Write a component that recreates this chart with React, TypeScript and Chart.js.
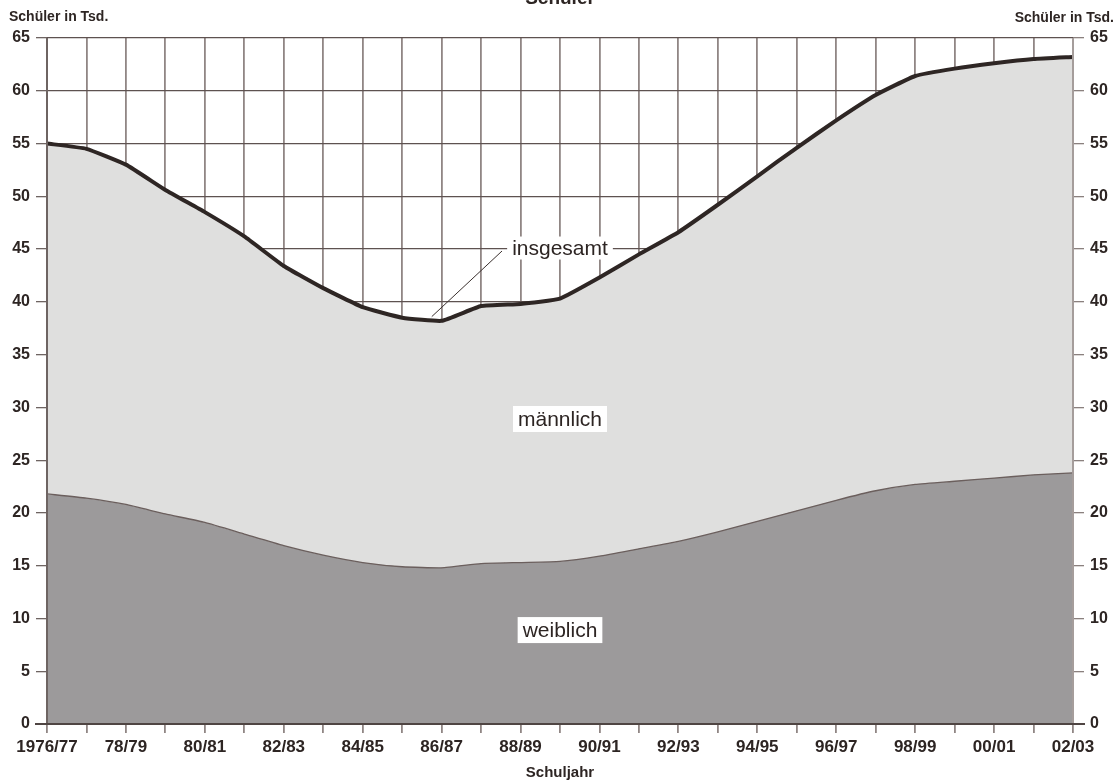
import React, { useEffect, useRef } from "react";
import { Chart, registerables } from "chart.js";

Chart.register(...registerables);

const years: string[] = [
  "1976/77", "77/78", "78/79", "79/80", "80/81", "81/82", "82/83", "83/84", "84/85",
  "85/86", "86/87", "87/88", "88/89", "89/90", "90/91", "91/92", "92/93", "93/94",
  "94/95", "95/96", "96/97", "97/98", "98/99", "99/00", "00/01", "01/02", "02/03",
];

const totalValues: number[] = [
  55.0, 54.5, 53.0, 50.6, 48.5, 46.2, 43.4, 41.3, 39.5, 38.5, 38.2, 39.6, 39.8, 40.3,
  42.3, 44.5, 46.6, 49.2, 51.9, 54.6, 57.2, 59.6, 61.4, 62.1, 62.6, 63.0, 63.2,
];

const femaleValues: number[] = [
  21.8, 21.4, 20.8, 19.9, 19.1, 18.0, 16.9, 16.0, 15.3, 14.9, 14.8, 15.2, 15.3, 15.4,
  15.9, 16.6, 17.3, 18.2, 19.2, 20.2, 21.2, 22.1, 22.7, 23.0, 23.3, 23.6, 23.8,
];

const yMin = 0;
const yMax = 65;
const yStep = 5;

const title = "Schüler";
const yAxisTitle = "Schüler in Tsd.";
const xAxisTitle = "Schuljahr";
const labelTotal = "insgesamt";
const labelMale = "männlich";
const labelFemale = "weiblich";

const FONT = "Arial, 'Liberation Sans', Helvetica, sans-serif";
const NARROW = "'Liberation Sans Narrow', 'Arial Narrow', Arial, sans-serif";
const TEXT = "#2d2523";

function boxLabel(ctx: CanvasRenderingContext2D, text: string, cx: number, cy: number, padX: number, h: number) {
  ctx.font = `21px ${FONT}`;
  const w = ctx.measureText(text).width;
  ctx.fillStyle = "#ffffff";
  ctx.fillRect(cx - w / 2 - padX, cy - h / 2, w + padX * 2, h);
  ctx.fillStyle = TEXT;
  ctx.textAlign = "center";
  ctx.textBaseline = "middle";
  ctx.fillText(text, cx, cy + 1);
}

const decorPlugin = {
  id: "decor",
  afterDatasetsDraw(chart: any) {
    const ctx: CanvasRenderingContext2D = chart.ctx;
    const { left, right, top, bottom } = chart.chartArea;
    const xs = chart.scales.x;
    const ys = chart.scales.y;
    ctx.save();
    // borders
    ctx.lineWidth = 2;
    ctx.strokeStyle = "#6e6462";
    ctx.beginPath();
    ctx.moveTo(left, top);
    ctx.lineTo(left, bottom);
    ctx.stroke();
    ctx.strokeStyle = "#a59d9b";
    ctx.beginPath();
    ctx.moveTo(right, top);
    ctx.lineTo(right, bottom);
    ctx.stroke();
    ctx.strokeStyle = "#4f4543";
    ctx.beginPath();
    ctx.moveTo(left - 12, bottom);
    ctx.lineTo(right + 12, bottom);
    ctx.stroke();

    const cx = (left + right) / 2;

    // leader line for insgesamt
    const lx = xs.getPixelForValue(9.75);
    const ly = ys.getPixelForValue(38.6);
    const ty = ys.getPixelForValue(45.1);
    ctx.strokeStyle = "#3a302e";
    ctx.lineWidth = 1;
    ctx.beginPath();
    ctx.moveTo(cx - 58, ty + 3);
    ctx.lineTo(lx, ly);
    ctx.stroke();

    boxLabel(ctx, labelTotal, cx, ty, 5, 23);
    boxLabel(ctx, labelMale, cx, ys.getPixelForValue(28.9), 5, 26);
    boxLabel(ctx, labelFemale, cx, ys.getPixelForValue(8.9), 5, 26);

    // title (cut off at top)
    ctx.fillStyle = TEXT;
    ctx.font = `bold 19px ${FONT}`;
    ctx.textAlign = "center";
    ctx.textBaseline = "alphabetic";
    ctx.fillText(title, cx, 4);

    // axis titles
    ctx.font = `bold 14px ${FONT}`;
    ctx.textAlign = "left";
    ctx.fillText(yAxisTitle, 9, 21);
    ctx.textAlign = "right";
    ctx.fillText(yAxisTitle, 1114, 22);

    // x axis title
    ctx.font = `bold 15px ${FONT}`;
    ctx.textAlign = "center";
    ctx.fillText(xAxisTitle, cx, 777);
    ctx.restore();
  },
};

export default function App() {
  const ref = useRef<HTMLCanvasElement | null>(null);

  useEffect(() => {
    if (!ref.current) return;
    const chart = new Chart(ref.current, {
      type: "line",
      data: {
        labels: years,
        datasets: [
          {
            label: labelFemale,
            data: femaleValues,
            borderColor: "#6b5f5d",
            borderWidth: 1.3,
            backgroundColor: "#9c9a9b",
            fill: "origin",
            pointRadius: 0,
            tension: 0.15,
          },
          {
            label: labelTotal,
            data: totalValues,
            borderColor: "#2e2624",
            borderWidth: 4,
            backgroundColor: "#dfdfde",
            fill: "-1",
            pointRadius: 0,
            tension: 0.12,
          },
        ],
      },
      options: {
        responsive: false,
        animation: false,
        layout: { padding: { top: 38, left: 0, right: 0, bottom: 0 } },
        plugins: {
          legend: { display: false },
          tooltip: { enabled: false },
          title: { display: false },
        },
        scales: {
          x: {
            type: "category",
            offset: false,
            afterFit: (s: any) => {
              s.height = 59;
            },
            border: { display: false },
            grid: {
              color: "#908684",
              lineWidth: 1.8,
              tickLength: 9,
              tickColor: "#908684",
            },
            ticks: {
              autoSkip: false,
              maxRotation: 0,
              minRotation: 0,
              padding: 4,
              color: TEXT,
              font: { family: FONT, size: 17, weight: "bold" },
              callback: (_v: any, i: number) => (i % 2 === 0 ? years[i] : ""),
            },
          },
          y: {
            position: "left",
            min: yMin,
            max: yMax,
            afterFit: (s: any) => {
              s.width = 47;
            },
            border: { display: false },
            grid: {
              color: "#5e5250",
              lineWidth: 1.3,
              tickLength: 11,
              tickColor: "#6e6462",
            },
            ticks: {
              stepSize: yStep,
              padding: 6,
              color: TEXT,
              font: { family: NARROW, size: 16, weight: "bold" },
            },
          },
          y2: {
            position: "right",
            min: yMin,
            max: yMax,
            afterFit: (s: any) => {
              s.width = 45;
            },
            border: { display: false },
            grid: {
              drawOnChartArea: false,
              tickLength: 11,
              tickColor: "#8a807e",
              lineWidth: 1.3,
            },
            ticks: {
              stepSize: yStep,
              padding: 6,
              color: TEXT,
              font: { family: NARROW, size: 16, weight: "bold" },
            },
          },
        },
      },
      plugins: [decorPlugin],
    } as any);
    return () => chart.destroy();
  }, []);

  return (
    <div style={{ position: "fixed", top: 0, left: 0, width: 1118, height: 783, background: "#ffffff", overflow: "hidden" }}>
      <canvas ref={ref} width={1118} height={783} style={{ width: 1118, height: 783, display: "block" }} />
    </div>
  );
}
